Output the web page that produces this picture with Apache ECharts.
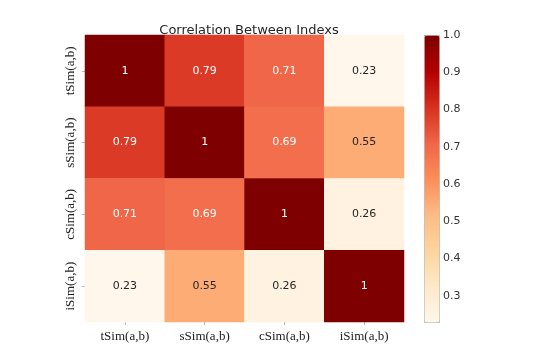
<!DOCTYPE html>
<html>
<head>
<meta charset="utf-8">
<script src="https://cdn.jsdelivr.net/npm/echarts@6/dist/echarts.min.js"></script>
<style>
  html, body { margin: 0; padding: 0; background: #fff; }
  #main { width: 547px; height: 363px; }
</style>
</head>
<body>
<div id="main"></div>
<script>
// categories (same order on both axes)
var indexNames = ["tSim(a,b)", "sSim(a,b)", "cSim(a,b)", "iSim(a,b)"];
// correlation matrix, one row per index
var rowTSim = [1, 0.79, 0.71, 0.23];
var rowSSim = [0.79, 1, 0.69, 0.55];
var rowCSim = [0.71, 0.69, 1, 0.26];
var rowISim = [0.23, 0.55, 0.26, 1];
// colour bar range and ticks
var colorMin = 0.23;
var colorMax = 1.0;
var colorTicks = [0.3, 0.4, 0.5, 0.6, 0.7, 0.8, 0.9, 1.0];

var rows = [rowTSim, rowSSim, rowCSim, rowISim];
var cells = [];
rows.forEach(function (row, y) {
  row.forEach(function (v, x) {
    cells.push([x, y, v]);
  });
});

var chart = echarts.init(document.getElementById("main"));
var option = {
  backgroundColor: "#fff",
  animation: false,
  title: {
    text: "Correlation Between Indexs",
    left: 244,
    textAlign: "center",
    top: 19,
    textStyle: {
      fontFamily: "DejaVu Sans",
      fontSize: 13,
      fontWeight: "normal",
      color: "#262626"
    }
  },
  grid: [
    { left: 85, top: 35, width: 319, height: 287 },
    { left: 424, top: 35, width: 15, height: 287, show: false }
  ],
  xAxis: [
    {
      type: "category",
      gridIndex: 0,
      data: indexNames,
      axisLine: { show: false },
      axisTick: { show: true, alignWithLabel: true, length: 3, lineStyle: { color: "#bbb" } },
      axisLabel: { fontFamily: "Liberation Serif", fontSize: 13, color: "#222", margin: 8 },
      splitLine: { show: false }
    },
    { type: "value", gridIndex: 1, show: false, min: 0, max: 1 }
  ],
  yAxis: [
    {
      type: "category",
      gridIndex: 0,
      inverse: true,
      data: indexNames,
      axisLine: { show: false },
      axisTick: { show: true, alignWithLabel: true, length: 3, lineStyle: { color: "#bbb" } },
      axisLabel: {
        fontFamily: "Liberation Serif",
        fontSize: 13,
        color: "#222",
        rotate: 90,
        margin: 8,
        verticalAlign: "bottom",
        align: "center"
      },
      splitLine: { show: false }
    },
    {
      type: "value",
      gridIndex: 1,
      position: "right",
      min: colorMin,
      max: colorMax,
      axisLine: { show: false },
      splitLine: { show: false },
      axisTick: { show: true, length: 3, customValues: colorTicks, lineStyle: { color: "#666" } },
      axisLabel: {
        customValues: colorTicks,
        fontFamily: "DejaVu Sans",
        fontSize: 11,
        color: "#333",
        margin: 4,
        formatter: function (v) { return v.toFixed(1); }
      }
    }
  ],
  visualMap: {
    type: "continuous",
    min: colorMin,
    max: colorMax,
    seriesIndex: 0,
    calculable: false,
    showLabel: false,
    text: ["", ""],
    left: 424,
    top: 35,
    itemWidth: 15,
    itemHeight: 287,
    padding: 0,
    borderWidth: 1,
    borderColor: "#bbb",
    inRange: {
      color: ["#fff7ec", "#fee8c8", "#fdd49e", "#fdbb84", "#fc8d59",
              "#ef6548", "#d7301f", "#b30000", "#7f0000"]
    }
  },
  series: [
    {
      type: "heatmap",
      xAxisIndex: 0,
      yAxisIndex: 0,
      data: cells,
      label: {
        show: true,
        fontFamily: "DejaVu Sans",
        fontSize: 11,
        formatter: function (p) {
          var v = p.value[2];
          return (v >= 0.6 ? "{w|" : "{d|") + String(v) + "}";
        },
        rich: {
          w: { color: "#fff", fontFamily: "DejaVu Sans", fontSize: 11 },
          d: { color: "#262626", fontFamily: "DejaVu Sans", fontSize: 11 }
        }
      },
      emphasis: { disabled: true }
    }
  ]
};
chart.setOption(option);
</script>
</body>
</html>
